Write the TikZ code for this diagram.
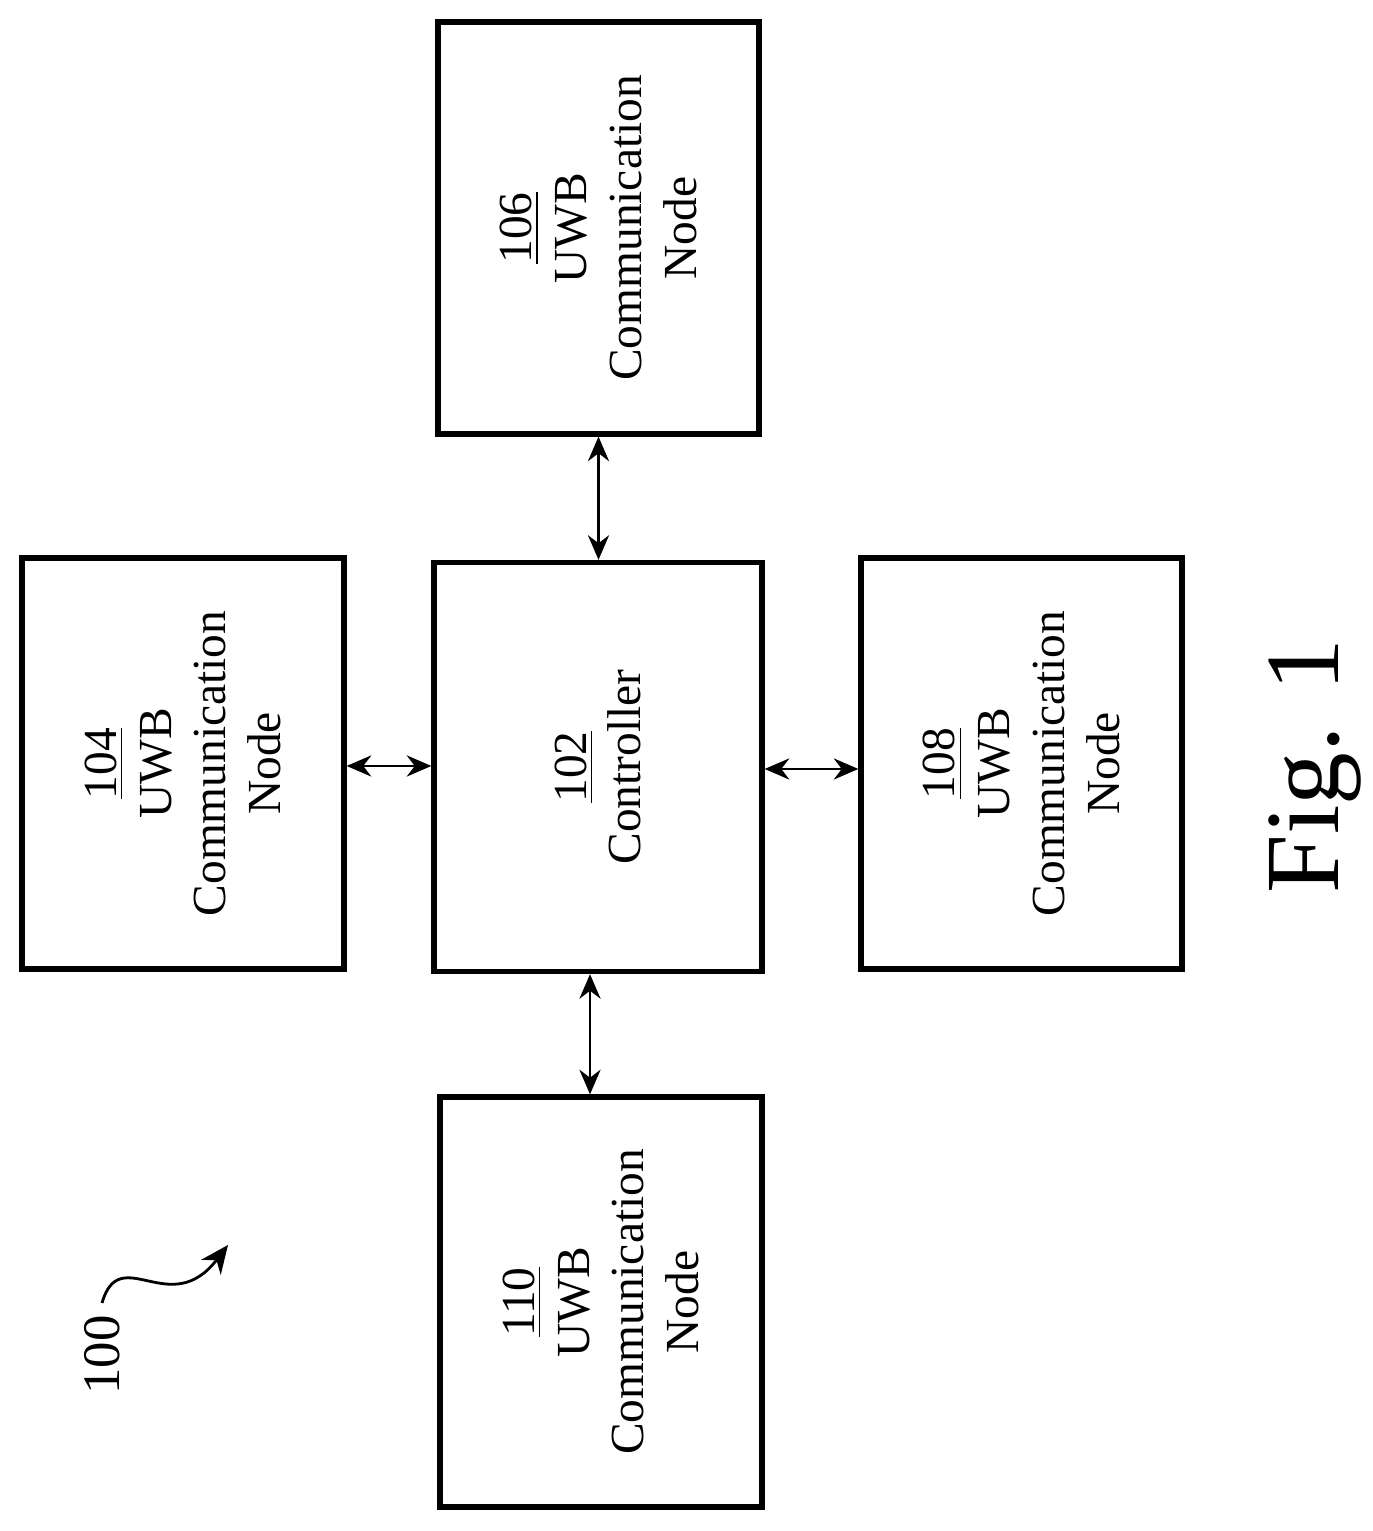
\documentclass[tikz,border=0pt]{standalone}
\usepackage{fontspec}
\setmainfont{Liberation Serif}
\usetikzlibrary{positioning,arrows.meta}
\begin{document}
\begin{tikzpicture}[blk/.style={draw,line width=1.5pt,rotate=90,align=center,
		font=\fontsize{13.5}{15.6}\selectfont,inner sep=0pt},
	lnk/.style={line width=0.8pt,{Stealth[length=7pt,width=6pt]}-{Stealth[length=7pt,width=6pt]}}]
	\useasboundingbox (0,0) rectangle (13.72,15.31);
	\node [blk, minimum width=4.09cm, minimum height=3.28cm] (ctl) at (5.98,7.64) {\underline{102}\\Controller};
	\node [blk, minimum width=4.12cm, minimum height=3.21cm] (n106) at (5.985,13.03) {\underline{106}\\UWB\\Communication\\Node};
	\node [blk, minimum width=4.11cm, minimum height=3.22cm] (n104) at (1.83,7.675) {\underline{104}\\UWB\\Communication\\Node};
	\node [blk, minimum width=4.11cm, minimum height=3.21cm] (n108) at (10.215,7.675) {\underline{108}\\UWB\\Communication\\Node};
	\node [blk, minimum width=4.10cm, minimum height=3.22cm] (n110) at (6.01,2.29) {\underline{110}\\UWB\\Communication\\Node};
	\draw [lnk] (n106.west) -- (n106.west |- ctl.east);
	\draw [lnk] (ctl.west -| 5.90,0) -- (n110.east -| 5.90,0);
	\draw [lnk] (n104.south |- 0,7.65) -- (ctl.north |- 0,7.65);
	\draw [lnk] (ctl.south |- 0,7.62) -- (n108.north |- 0,7.62);
	% reference label
	\node [rotate=90, font=\fontsize{15}{18}\selectfont, anchor=east] (lbl) at (1.02,2.28) {100};
	\coordinate (tip) at (2.28,2.86);
	\draw [line width=0.8pt,-{Stealth[length=8pt,width=7pt]}] (lbl.east) .. controls (1.2,2.9) and (1.7,2.1) .. (tip);
	\node [rotate=90, font=\fontsize{30}{36}\selectfont] (fig) at (13.15,7.65) {Fig. 1};
\end{tikzpicture}
\end{document}
